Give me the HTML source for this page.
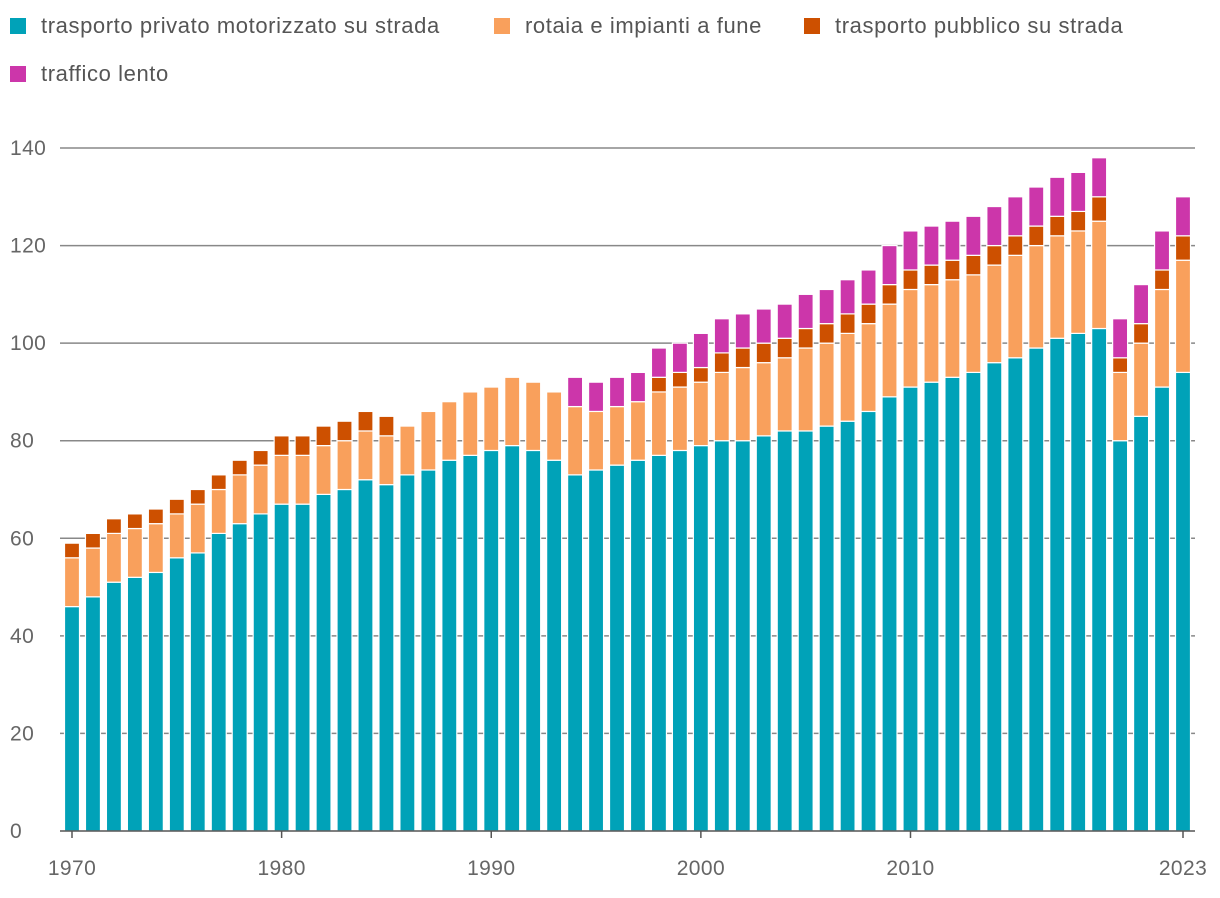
<!DOCTYPE html>
<html><head><meta charset="utf-8"><style>
body{margin:0;background:#fff;font-family:"Liberation Sans",sans-serif}
.leg{position:absolute;font-size:22px;letter-spacing:0.6px;color:#555;display:flex;align-items:center}
.sw{width:16px;height:16px;margin-right:15px;display:inline-block}
</style></head><body>
<div>
<div class="leg" style="left:10px;top:13px"><span class="sw" style="background:#00a2b8"></span>trasporto privato motorizzato su strada</div>
<div class="leg" style="left:494px;top:13px"><span class="sw" style="background:#f9a05c"></span>rotaia e impianti a fune</div>
<div class="leg" style="left:804px;top:13px"><span class="sw" style="background:#cd5000"></span>trasporto pubblico su strada</div>
<div class="leg" style="left:10px;top:61px"><span class="sw" style="background:#cc36aa"></span>traffico lento</div>
</div>
<svg id="c" width="1220" height="898" style="position:absolute;left:0;top:0"></svg>
<script>
const years=[];for(let y=1970;y<=2023;y++)years.push(y);
const privateRoad=[46,48,51,52,53,56,57,61,63,65,67,67,69,70,72,71,73,74,76,77,78,79,78,76,73,74,75,76,77,78,79,80,80,81,82,82,83,84,86,89,91,92,93,94,96,97,99,101,102,103,80,85,91,94];
const rail=[10,10,10,10,10,9,10,9,10,10,10,10,10,10,10,10,10,12,12,13,13,14,14,14,14,12,12,12,13,13,13,14,15,15,15,17,17,18,18,19,20,20,20,20,20,21,21,21,21,22,14,15,20,23];
const publicRoad=[3,3,3,3,3,3,3,3,3,3,4,4,4,4,4,4,0,0,0,0,0,0,0,0,0,0,0,0,3,3,3,4,4,4,4,4,4,4,4,4,4,4,4,4,4,4,4,4,4,5,3,4,4,5];
const slow=[0,0,0,0,0,0,0,0,0,0,0,0,0,0,0,0,0,0,0,0,0,0,0,0,6,6,6,6,6,6,7,7,7,7,7,7,7,7,7,8,8,8,8,8,8,8,8,8,8,8,8,8,8,8];
const yTicks=[0,20,40,60,80,100,120,140];
const xTickYears=[1970,1980,1990,2000,2010,2023];
const series=[[privateRoad,'#00a2b8','private'],[rail,'#f9a05c','rail'],[publicRoad,'#cd5000','public'],[slow,'#cc36aa','slow']];
const NS='http://www.w3.org/2000/svg',svg=document.getElementById('c');
const y0=831,yTop=148,x0=72,x1=1183;
const ys=v=>y0-(v/140)*(y0-yTop);
const xs=yr=>x0+(yr-1970)*(x1-x0)/53;
function mk(t,a){const e=document.createElementNS(NS,t);for(const k in a)e.setAttribute(k,a[k]);svg.appendChild(e);return e;}
yTicks.forEach(v=>{
 if(v>0){const l=mk('line',{x1:60,x2:1195,y1:ys(v),y2:ys(v),stroke:'#888','stroke-width':1.5});
 
 }
 const t=mk('text',{x:10,y:ys(v)+7,'font-size':21,'letter-spacing':0.4,fill:'#666','font-family':'Liberation Sans'});t.textContent=v;
 
 
});
years.forEach((yr,i)=>{
 let base=0;
 series.forEach(([arr,col,nm])=>{
  const v=arr[i];if(!v)return;
  const r=mk('rect',{x:xs(yr)-7.5,y:ys(base+v),width:15,height:ys(base)-ys(base+v),fill:col,stroke:'#fff','stroke-width':1.2});
  
  
  base+=v;
 });
});
mk('line',{x1:60,x2:1195,y1:y0,y2:y0,stroke:'#555','stroke-width':1.5});
xTickYears.forEach(yr=>{
 mk('line',{x1:xs(yr),x2:xs(yr),y1:y0,y2:y0+7,stroke:'#555','stroke-width':1.5});
 const t=mk('text',{x:xs(yr),y:875,'font-size':21,'letter-spacing':0.4,fill:'#666','text-anchor':'middle','font-family':'Liberation Sans'});t.textContent=yr;
 
 
});
</script>
</body></html>
